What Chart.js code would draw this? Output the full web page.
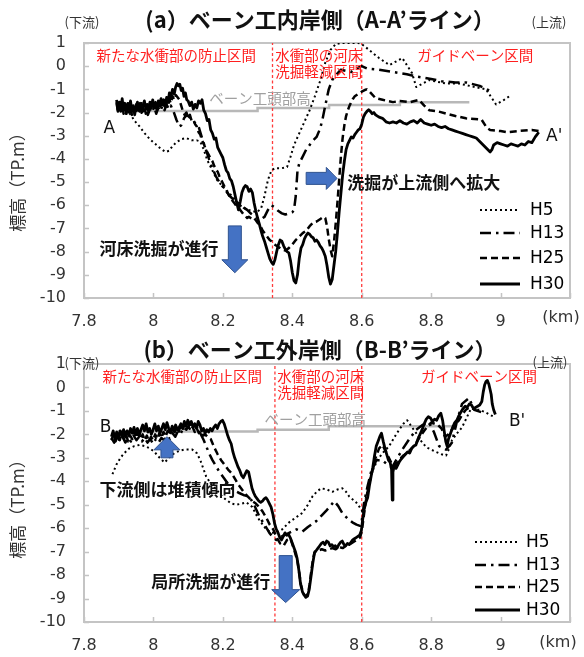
<!DOCTYPE html>
<html>
<head>
<meta charset="utf-8">
<script src="https://cdn.jsdelivr.net/npm/chart.js@4.4.1/dist/chart.umd.min.js"></script>
<style>
  html, body { margin: 0; padding: 0; background: #fff; }
  #wrap { position: relative; width: 584px; height: 657px; overflow: hidden; }
  canvas { position: absolute; left: 0; }
  #cA { top: 0; }
  #cB { top: 328px; }
</style>
</head>
<body>
<div id="wrap">
  <canvas id="cA" width="584" height="330"></canvas>
  <canvas id="cB" width="584" height="329"></canvas>
</div>
<script>
// ---- axes ----
const kmTicks = [7.8, 8.0, 8.2, 8.4, 8.6, 8.8, 9.0, 9.2];
const kmTickLabels = ['7.8', '8', '8.2', '8.4', '8.6', '8.8', '9', ''];
const elevTicks = [1, 0, -1, -2, -3, -4, -5, -6, -7, -8, -9, -10];
const elevTickLabels = ['1', '0', '-1', '-2', '-3', '-4', '-5', '-6', '-7', '-8', '-9', '-10'];
const seriesNames = ['H5', 'H13', 'H25', 'H30'];

// ---- (a) inner bank, A-A' line: [km, elevation TP.m] ----
const lineA_H30 = [[7.894,-1.45],[7.898,-1.95],[7.902,-1.55],[7.906,-1.80],[7.910,-1.40],[7.914,-1.90],[7.918,-1.60],[7.922,-2.05],[7.926,-1.65],[7.930,-1.85],[7.934,-1.50],[7.938,-1.95],[7.942,-1.70],[7.946,-2.10],[7.950,-1.75],[7.954,-1.55],[7.958,-1.90],[7.962,-1.60],[7.966,-2.00],[7.970,-1.70],[7.974,-1.50],[7.978,-1.85],[7.982,-1.65],[7.986,-1.95],[7.990,-1.55],[7.994,-1.75],[7.998,-1.45],[8.002,-1.80],[8.006,-1.60],[8.010,-1.90],[8.014,-1.50],[8.018,-1.70],[8.022,-1.40],[8.026,-1.65],[8.030,-1.45],[8.034,-1.75],[8.038,-1.35],[8.042,-1.55],[8.046,-1.15],[8.050,-1.35],[8.055,-1.00],[8.060,-1.20],[8.064,-0.90],[8.068,-0.75],[8.072,-0.85],[8.076,-0.78],[8.080,-1.05],[8.084,-0.95],[8.088,-1.30],[8.092,-1.15],[8.096,-1.45],[8.100,-1.50],[8.105,-1.70],[8.110,-1.55],[8.115,-1.85],[8.120,-1.65],[8.125,-1.80],[8.130,-1.50],[8.135,-1.60],[8.140,-1.45],[8.145,-1.90],[8.150,-2.05],[8.155,-2.35],[8.160,-2.30],[8.165,-2.75],[8.170,-2.90],[8.175,-3.15],[8.180,-3.10],[8.185,-3.50],[8.190,-3.65],[8.195,-3.80],[8.200,-3.95],[8.205,-4.25],[8.210,-4.50],[8.215,-4.60],[8.220,-4.85],[8.225,-4.95],[8.230,-5.20],[8.235,-5.55],[8.240,-5.90],[8.245,-6.20],[8.250,-5.85],[8.255,-5.45],[8.260,-5.25],[8.265,-5.15],[8.270,-5.20],[8.275,-5.40],[8.280,-5.30],[8.285,-5.45],[8.290,-5.90],[8.295,-6.25],[8.300,-6.55],[8.305,-6.80],[8.310,-7.10],[8.315,-7.35],[8.320,-7.55],[8.325,-7.80],[8.330,-8.05],[8.335,-8.30],[8.340,-8.45],[8.345,-8.55],[8.350,-8.35],[8.355,-8.00],[8.360,-7.70],[8.365,-7.50],[8.370,-7.55],[8.375,-7.75],[8.380,-7.90],[8.385,-8.00],[8.390,-8.05],[8.395,-8.40],[8.400,-8.90],[8.405,-9.25],[8.410,-9.35],[8.415,-9.00],[8.420,-8.30],[8.425,-7.85],[8.430,-7.70],[8.435,-7.45],[8.440,-7.30],[8.445,-7.20],[8.450,-7.25],[8.455,-7.35],[8.460,-7.40],[8.465,-7.55],[8.470,-7.50],[8.475,-7.60],[8.480,-7.75],[8.485,-7.85],[8.490,-8.00],[8.495,-8.20],[8.500,-8.60],[8.505,-9.10],[8.510,-9.40],[8.515,-9.20],[8.520,-8.60],[8.525,-8.00],[8.530,-7.20],[8.535,-6.30],[8.540,-5.50],[8.545,-4.70],[8.550,-4.10],[8.555,-3.60],[8.560,-3.35],[8.565,-3.20],[8.570,-3.05],[8.575,-3.10],[8.580,-2.95],[8.585,-2.85],[8.590,-2.75],[8.595,-2.70],[8.600,-2.50],[8.605,-2.20],[8.610,-2.05],[8.615,-1.95],[8.620,-1.88],[8.625,-1.95],[8.630,-2.05],[8.635,-2.00],[8.640,-2.10],[8.650,-2.20],[8.660,-2.25],[8.670,-2.40],[8.680,-2.45],[8.690,-2.40],[8.700,-2.45],[8.710,-2.35],[8.720,-2.45],[8.730,-2.50],[8.740,-2.40],[8.750,-2.35],[8.760,-2.45],[8.770,-2.30],[8.780,-2.45],[8.790,-2.50],[8.800,-2.55],[8.810,-2.50],[8.820,-2.60],[8.830,-2.65],[8.840,-2.60],[8.850,-2.70],[8.860,-2.75],[8.870,-2.80],[8.880,-2.85],[8.890,-2.90],[8.900,-2.95],[8.910,-3.00],[8.920,-3.05],[8.930,-3.10],[8.940,-3.25],[8.950,-3.40],[8.960,-3.55],[8.970,-3.70],[8.975,-3.60],[8.980,-3.40],[8.990,-3.30],[9.000,-3.35],[9.010,-3.40],[9.020,-3.45],[9.030,-3.35],[9.040,-3.40],[9.050,-3.45],[9.060,-3.35],[9.070,-3.40],[9.080,-3.25],[9.090,-3.30],[9.100,-3.05],[9.105,-2.95],[9.110,-2.85]];

const lineA_H25 = [[7.894,-1.60],[7.898,-2.00],[7.902,-1.70],[7.906,-1.95],[7.910,-1.65],[7.914,-2.05],[7.918,-1.75],[7.922,-1.95],[7.926,-1.60],[7.930,-2.00],[7.934,-1.75],[7.938,-2.10],[7.942,-1.80],[7.946,-1.95],[7.950,-1.65],[7.954,-2.00],[7.958,-1.70],[7.962,-1.90],[7.966,-1.60],[7.970,-1.95],[7.974,-1.75],[7.978,-2.05],[7.982,-1.70],[7.986,-1.85],[7.990,-1.60],[7.994,-1.90],[7.998,-1.65],[8.002,-1.85],[8.006,-1.55],[8.010,-1.80],[8.014,-1.60],[8.018,-1.85],[8.022,-1.55],[8.026,-1.75],[8.030,-1.60],[8.034,-1.80],[8.038,-1.50],[8.042,-1.70],[8.046,-1.45],[8.050,-1.60],[8.055,-1.30],[8.060,-1.45],[8.065,-1.25],[8.070,-1.35],[8.075,-1.45],[8.080,-1.70],[8.085,-1.95],[8.090,-2.10],[8.095,-2.00],[8.100,-2.20],[8.105,-2.10],[8.110,-2.35],[8.115,-2.30],[8.120,-2.50],[8.125,-2.60],[8.130,-2.85],[8.135,-2.95],[8.140,-3.20],[8.145,-3.35],[8.150,-3.55],[8.155,-3.70],[8.160,-3.85],[8.165,-4.00],[8.170,-4.10],[8.175,-4.30],[8.180,-4.45],[8.185,-4.55],[8.190,-4.75],[8.195,-4.90],[8.200,-5.05],[8.205,-5.20],[8.210,-5.35],[8.215,-5.50],[8.220,-5.65],[8.225,-5.75],[8.230,-5.85],[8.235,-5.95],[8.240,-6.05],[8.245,-6.10],[8.250,-6.20],[8.255,-6.30],[8.260,-6.40],[8.265,-6.45],[8.270,-6.55],[8.275,-6.50],[8.280,-6.55],[8.285,-6.60],[8.290,-6.55],[8.295,-6.65],[8.300,-6.75],[8.305,-6.85],[8.310,-6.95],[8.315,-7.10],[8.320,-7.20],[8.325,-7.30],[8.330,-7.40],[8.335,-7.50],[8.340,-7.55],[8.345,-7.65],[8.350,-7.70],[8.360,-7.80],[8.370,-7.90],[8.380,-7.95],[8.390,-7.85],[8.400,-7.70],[8.410,-7.50],[8.420,-7.35],[8.430,-7.20],[8.440,-7.10],[8.450,-6.90],[8.460,-6.75],[8.470,-6.70],[8.480,-6.60],[8.490,-6.50],[8.495,-6.55],[8.500,-6.90],[8.505,-7.45],[8.510,-7.90],[8.515,-8.20],[8.520,-7.60],[8.525,-6.80],[8.530,-5.90],[8.535,-4.90],[8.540,-3.90],[8.545,-3.10],[8.550,-2.55],[8.555,-2.15],[8.560,-1.90],[8.565,-1.70],[8.570,-1.55],[8.575,-1.40],[8.580,-1.30],[8.590,-1.20],[8.600,-1.10],[8.610,-1.02],[8.615,-1.00],[8.620,-1.05],[8.640,-1.38],[8.660,-1.45],[8.690,-1.55],[8.710,-1.50],[8.740,-1.55],[8.765,-1.45],[8.780,-1.70],[8.795,-1.90],[8.820,-1.95],[8.845,-2.05],[8.870,-2.15],[8.900,-2.25],[8.945,-2.30],[8.960,-2.65],[8.970,-2.75],[9.000,-2.80],[9.020,-2.85],[9.050,-2.80],[9.090,-2.75],[9.110,-2.80]];

const lineA_H13 = [[7.894,-1.55],[7.900,-1.85],[7.906,-1.65],[7.912,-2.00],[7.918,-1.70],[7.924,-1.90],[7.930,-1.60],[7.936,-1.95],[7.942,-1.75],[7.948,-2.05],[7.954,-1.80],[7.960,-1.95],[7.966,-1.70],[7.972,-2.00],[7.978,-1.80],[7.984,-2.10],[7.990,-1.85],[7.996,-2.00],[8.002,-1.75],[8.008,-2.05],[8.014,-1.80],[8.020,-1.95],[8.026,-1.70],[8.032,-1.90],[8.038,-1.65],[8.044,-1.85],[8.050,-1.70],[8.058,-1.95],[8.066,-2.30],[8.074,-2.60],[8.080,-2.55],[8.088,-2.25],[8.096,-2.10],[8.104,-2.20],[8.112,-2.35],[8.120,-2.45],[8.130,-2.60],[8.140,-3.10],[8.150,-3.55],[8.160,-4.00],[8.170,-4.40],[8.180,-4.75],[8.190,-5.00],[8.200,-5.20],[8.210,-5.40],[8.220,-5.60],[8.230,-5.75],[8.240,-5.85],[8.250,-5.95],[8.260,-6.10],[8.270,-6.20],[8.280,-6.35],[8.290,-6.45],[8.300,-6.55],[8.310,-6.60],[8.320,-6.50],[8.330,-6.20],[8.340,-6.00],[8.350,-6.10],[8.360,-6.25],[8.370,-6.35],[8.380,-6.40],[8.390,-6.35],[8.400,-6.30],[8.405,-6.20],[8.410,-5.60],[8.415,-4.50],[8.420,-4.20],[8.430,-3.90],[8.440,-3.60],[8.450,-3.40],[8.460,-3.20],[8.470,-3.05],[8.480,-2.70],[8.487,-2.30],[8.495,-1.70],[8.505,-1.00],[8.515,-0.60],[8.525,-0.40],[8.540,-0.15],[8.555,-0.20],[8.570,-0.25],[8.585,-0.10],[8.600,0.00],[8.615,-0.10],[8.650,-0.15],[8.690,-0.25],[8.730,-0.35],[8.760,-0.45],[8.800,-0.55],[8.830,-0.65],[8.870,-0.70],[8.900,-0.70],[8.940,-0.85],[8.975,-1.10]];

const lineA_H5 = [[7.894,-1.70],[7.910,-1.80],[7.925,-1.95],[7.935,-2.10],[7.945,-2.35],[7.960,-2.60],[7.975,-2.90],[7.990,-3.15],[8.005,-3.35],[8.020,-3.55],[8.035,-3.70],[8.045,-3.65],[8.055,-3.45],[8.065,-3.30],[8.080,-3.15],[8.095,-3.10],[8.110,-3.20],[8.125,-3.20],[8.135,-3.25],[8.145,-3.60],[8.155,-4.05],[8.170,-4.50],[8.183,-4.90],[8.200,-5.20],[8.220,-5.50],[8.240,-5.85],[8.257,-6.10],[8.275,-6.20],[8.297,-6.30],[8.310,-6.15],[8.320,-5.60],[8.330,-4.90],[8.340,-4.50],[8.350,-4.40],[8.370,-4.40],[8.385,-4.35],[8.395,-3.90],[8.405,-3.40],[8.420,-2.90],[8.435,-2.40],[8.450,-1.90],[8.465,-1.30],[8.480,-0.65],[8.495,0.15],[8.510,0.70],[8.525,0.95],[8.540,1.00],[8.570,1.00],[8.590,1.00],[8.600,0.95],[8.613,0.80],[8.650,0.35],[8.680,0.05],[8.717,0.35],[8.745,-0.30],[8.757,-0.90],[8.794,-0.60],[8.843,-0.75],[8.880,-0.75],[8.958,-1.00],[8.987,-1.65],[9.010,-1.45],[9.030,-1.25]];

// crest height of the vanes along A-A'
const vaneA = [[7.894,-1.93],[8.300,-1.93],[8.300,-1.80],[8.506,-1.80],[8.506,-1.67],[8.710,-1.67],[8.710,-1.56],[8.910,-1.56]];
const sectionA = [8.343, 8.600];

// ---- (b) outer bank, B-B' line: [km, elevation TP.m] ----
const lineB_H30 = [[7.879,-2.10],[7.884,-1.85],[7.889,-2.20],[7.894,-1.90],[7.899,-2.15],[7.904,-1.85],[7.909,-2.05],[7.914,-1.80],[7.919,-2.10],[7.924,-1.85],[7.929,-2.05],[7.934,-1.75],[7.939,-1.95],[7.944,-1.70],[7.949,-2.00],[7.954,-1.75],[7.959,-2.05],[7.964,-1.80],[7.969,-1.60],[7.974,-1.85],[7.979,-1.55],[7.984,-1.90],[7.989,-1.75],[7.994,-2.00],[7.999,-1.80],[8.004,-1.55],[8.009,-1.85],[8.014,-1.65],[8.019,-1.95],[8.024,-1.75],[8.029,-1.55],[8.034,-1.80],[8.039,-1.50],[8.044,-1.75],[8.049,-1.90],[8.054,-1.65],[8.059,-1.85],[8.064,-1.60],[8.069,-1.80],[8.074,-1.70],[8.079,-1.55],[8.084,-1.75],[8.089,-1.45],[8.094,-1.65],[8.099,-1.40],[8.104,-1.60],[8.109,-1.45],[8.114,-1.70],[8.119,-1.55],[8.124,-1.75],[8.129,-1.45],[8.134,-1.60],[8.139,-1.85],[8.144,-1.75],[8.149,-1.95],[8.154,-1.80],[8.159,-1.90],[8.164,-1.75],[8.169,-1.85],[8.174,-1.70],[8.179,-1.60],[8.184,-1.75],[8.189,-1.55],[8.194,-1.45],[8.199,-1.40],[8.204,-1.55],[8.209,-1.80],[8.214,-2.05],[8.219,-2.25],[8.224,-2.40],[8.229,-2.75],[8.234,-3.00],[8.239,-3.20],[8.244,-3.40],[8.249,-3.55],[8.254,-3.75],[8.259,-3.85],[8.264,-3.70],[8.269,-3.55],[8.274,-3.60],[8.279,-3.95],[8.284,-4.30],[8.289,-4.50],[8.294,-4.65],[8.299,-4.75],[8.304,-4.85],[8.309,-4.90],[8.314,-4.85],[8.319,-4.75],[8.324,-4.70],[8.329,-4.80],[8.334,-4.95],[8.339,-5.10],[8.344,-5.40],[8.349,-5.80],[8.354,-6.05],[8.359,-6.20],[8.364,-6.40],[8.369,-6.50],[8.374,-6.35],[8.379,-6.20],[8.384,-6.30],[8.389,-6.25],[8.394,-6.40],[8.399,-6.60],[8.404,-6.80],[8.409,-7.00],[8.414,-7.30],[8.419,-7.80],[8.424,-8.40],[8.429,-8.70],[8.434,-8.85],[8.439,-8.95],[8.444,-8.90],[8.449,-8.60],[8.454,-8.05],[8.459,-7.50],[8.464,-7.05],[8.469,-6.95],[8.474,-6.85],[8.479,-6.75],[8.484,-6.65],[8.489,-6.60],[8.494,-6.70],[8.499,-6.55],[8.504,-6.60],[8.509,-6.75],[8.514,-6.70],[8.519,-6.80],[8.524,-6.75],[8.529,-6.85],[8.534,-6.70],[8.539,-6.60],[8.544,-6.55],[8.549,-6.70],[8.554,-6.75],[8.559,-6.65],[8.564,-6.70],[8.569,-6.60],[8.574,-6.50],[8.579,-6.45],[8.584,-6.40],[8.589,-6.35],[8.594,-6.30],[8.599,-6.10],[8.603,-5.60],[8.607,-5.20],[8.612,-4.90],[8.617,-4.70],[8.622,-4.20],[8.627,-3.80],[8.632,-3.40],[8.637,-2.90],[8.642,-2.50],[8.647,-2.30],[8.652,-2.10],[8.657,-1.95],[8.662,-2.30],[8.667,-2.60],[8.672,-2.85],[8.677,-3.10],[8.682,-3.20],[8.686,-3.50],[8.688,-4.80],[8.690,-3.60],[8.694,-3.30],[8.699,-3.45],[8.704,-3.30],[8.709,-3.15],[8.714,-3.05],[8.720,-2.95],[8.726,-2.85],[8.732,-2.75],[8.738,-2.80],[8.744,-2.60],[8.750,-2.50],[8.756,-2.45],[8.762,-2.20],[8.768,-2.00],[8.774,-1.80],[8.780,-1.55],[8.786,-1.35],[8.792,-1.25],[8.798,-1.30],[8.804,-1.45],[8.810,-1.35],[8.816,-1.40],[8.822,-1.20],[8.828,-1.10],[8.833,-1.40],[8.837,-1.80],[8.842,-2.30],[8.846,-2.50],[8.850,-2.20],[8.856,-1.95],[8.862,-1.70],[8.868,-1.50],[8.874,-1.40],[8.880,-1.20],[8.886,-1.05],[8.892,-0.90],[8.898,-0.80],[8.904,-0.85],[8.910,-0.70],[8.916,-0.75],[8.922,-0.90],[8.928,-0.85],[8.934,-0.80],[8.940,-0.75],[8.946,-0.60],[8.950,-0.20],[8.954,0.10],[8.958,0.25],[8.962,0.30],[8.966,0.15],[8.970,-0.10],[8.973,-0.30],[8.976,-0.70],[8.980,-0.95],[8.985,-1.15]];

const lineB_H25 = [[7.879,-2.25],[7.885,-2.00],[7.891,-2.30],[7.897,-2.05],[7.903,-2.25],[7.909,-1.95],[7.915,-2.20],[7.921,-2.00],[7.927,-2.30],[7.933,-2.05],[7.939,-2.20],[7.945,-1.90],[7.951,-2.15],[7.957,-1.95],[7.963,-2.20],[7.969,-2.00],[7.975,-2.25],[7.981,-2.05],[7.987,-2.30],[7.993,-2.10],[7.999,-2.25],[8.005,-2.00],[8.011,-2.20],[8.017,-1.95],[8.023,-2.15],[8.029,-1.90],[8.035,-2.10],[8.041,-1.85],[8.047,-2.05],[8.053,-1.80],[8.059,-2.00],[8.065,-1.75],[8.071,-1.95],[8.077,-1.70],[8.083,-1.85],[8.089,-1.60],[8.095,-1.80],[8.101,-1.65],[8.107,-1.85],[8.113,-1.70],[8.119,-1.90],[8.125,-1.75],[8.131,-1.95],[8.137,-1.85],[8.143,-2.05],[8.149,-2.00],[8.155,-2.10],[8.165,-2.20],[8.175,-2.55],[8.185,-2.85],[8.195,-3.10],[8.205,-3.30],[8.215,-3.50],[8.225,-3.65],[8.235,-3.90],[8.245,-4.15],[8.255,-4.35],[8.265,-4.55],[8.275,-4.70],[8.285,-4.85],[8.295,-4.95],[8.305,-5.10],[8.315,-5.30],[8.325,-5.55],[8.335,-5.85],[8.345,-6.05],[8.355,-6.40],[8.365,-6.65],[8.375,-6.75],[8.385,-6.50],[8.395,-6.45],[8.405,-6.90],[8.415,-7.40],[8.420,-7.90],[8.425,-8.40],[8.430,-8.70],[8.435,-8.85],[8.440,-8.90],[8.445,-8.80],[8.450,-8.40],[8.455,-7.80],[8.460,-7.30],[8.465,-7.00],[8.475,-6.95],[8.485,-6.90],[8.495,-6.95],[8.505,-6.90],[8.515,-6.85],[8.525,-6.90],[8.535,-6.80],[8.545,-6.85],[8.555,-6.75],[8.565,-6.70],[8.575,-6.60],[8.585,-6.50],[8.595,-6.40],[8.600,-6.15],[8.605,-5.60],[8.610,-5.00],[8.615,-4.60],[8.620,-4.20],[8.630,-3.60],[8.640,-3.00],[8.650,-2.60],[8.660,-2.45],[8.670,-2.75],[8.680,-3.05],[8.690,-3.35],[8.700,-3.25],[8.710,-3.05],[8.720,-2.90],[8.730,-2.80],[8.740,-2.65],[8.750,-2.50],[8.760,-2.30],[8.770,-2.05],[8.780,-1.85],[8.790,-1.65],[8.800,-1.50],[8.810,-1.55],[8.820,-1.60],[8.830,-1.75],[8.840,-2.10],[8.850,-2.00],[8.860,-1.80],[8.870,-1.60],[8.880,-1.40],[8.890,-1.15],[8.900,-0.95],[8.910,-0.85],[8.920,-0.90],[8.930,-0.95]];

const lineB_H13 = [[7.879,-2.15],[7.887,-2.35],[7.895,-2.05],[7.903,-2.30],[7.911,-2.10],[7.919,-2.35],[7.927,-2.15],[7.935,-2.30],[7.943,-2.05],[7.951,-2.25],[7.959,-2.10],[7.967,-2.30],[7.975,-2.15],[7.983,-2.35],[7.991,-2.20],[7.999,-2.40],[8.007,-2.20],[8.015,-2.35],[8.023,-2.15],[8.031,-2.25],[8.039,-2.05],[8.047,-2.20],[8.055,-1.95],[8.063,-2.10],[8.071,-1.85],[8.079,-1.95],[8.087,-1.70],[8.095,-1.80],[8.103,-1.60],[8.111,-1.55],[8.119,-1.60],[8.127,-1.75],[8.135,-1.95],[8.145,-2.25],[8.152,-2.50],[8.160,-2.80],[8.170,-3.10],[8.180,-3.35],[8.190,-3.60],[8.205,-3.90],[8.219,-4.20],[8.233,-4.40],[8.247,-4.50],[8.262,-4.60],[8.276,-4.65],[8.290,-5.00],[8.305,-5.50],[8.320,-5.85],[8.334,-6.20],[8.345,-6.40],[8.354,-6.50],[8.370,-6.35],[8.391,-6.20],[8.412,-6.05],[8.429,-6.15],[8.445,-5.95],[8.469,-5.70],[8.485,-5.45],[8.498,-5.25],[8.510,-5.05],[8.521,-4.85],[8.532,-5.05],[8.544,-5.35],[8.560,-5.60],[8.573,-5.75],[8.585,-5.85],[8.595,-5.90],[8.600,-5.70],[8.607,-4.90],[8.617,-4.20],[8.627,-3.60],[8.642,-3.10],[8.659,-3.10],[8.675,-3.30],[8.688,-3.40],[8.703,-3.00],[8.717,-2.65],[8.737,-2.20],[8.757,-1.80],[8.775,-1.60],[8.794,-1.50],[8.808,-1.90],[8.823,-2.50],[8.843,-2.65],[8.860,-2.35],[8.875,-1.40],[8.889,-0.70],[8.909,-0.45],[8.924,-0.95],[8.944,-1.05]];

const lineB_H5 = [[7.882,-3.70],[7.893,-3.30],[7.905,-3.00],[7.916,-2.80],[7.930,-2.60],[7.945,-2.50],[7.960,-2.45],[7.975,-2.50],[7.990,-2.60],[8.003,-2.75],[8.018,-3.00],[8.032,-3.20],[8.045,-3.00],[8.060,-2.80],[8.075,-2.70],[8.090,-2.65],[8.112,-2.65],[8.125,-2.80],[8.135,-3.10],[8.152,-3.80],[8.165,-4.10],[8.181,-4.35],[8.195,-4.60],[8.210,-4.80],[8.225,-4.95],[8.239,-5.00],[8.255,-4.95],[8.268,-4.90],[8.285,-5.10],[8.295,-5.40],[8.305,-5.65],[8.315,-5.85],[8.325,-6.05],[8.342,-6.20],[8.360,-6.15],[8.371,-6.05],[8.391,-5.75],[8.410,-5.55],[8.429,-5.35],[8.445,-5.00],[8.458,-4.65],[8.470,-4.45],[8.483,-4.30],[8.500,-4.35],[8.515,-4.45],[8.530,-4.35],[8.544,-4.30],[8.555,-4.45],[8.564,-4.65],[8.584,-4.90],[8.599,-5.20],[8.605,-5.40],[8.612,-4.70],[8.620,-4.20],[8.630,-3.60],[8.645,-3.10],[8.660,-2.80],[8.679,-2.50],[8.695,-2.10],[8.708,-1.80],[8.720,-1.55],[8.731,-1.40],[8.745,-1.70],[8.757,-1.95],[8.772,-2.30],[8.786,-2.55],[8.800,-2.65],[8.814,-2.75],[8.830,-2.85],[8.843,-2.90],[8.852,-2.60],[8.860,-2.25],[8.875,-1.95],[8.889,-1.70],[8.902,-1.30],[8.915,-0.90],[8.930,-0.95],[8.938,-0.95],[8.955,-1.05],[8.967,-1.15],[8.981,-1.25]];

const vaneB = [[7.894,-1.88],[8.300,-1.88],[8.300,-1.80],[8.505,-1.80],[8.505,-1.65],[8.875,-1.65]];
const sectionB = [8.350, 8.600];

// ---- drawing helpers ----
const JP = '"Noto Sans CJK JP", "Noto Sans", sans-serif';
const NUM = '"DejaVu Sans", Verdana, sans-serif';
const lineStyles = {
  H5:  { dash: [2, 3],          width: 2.0 },
  H13: { dash: [11, 5, 2.5, 5], width: 2.5 },
  H25: { dash: [7, 4],          width: 2.5 },
  H30: { dash: [],              width: 2.8 }
};

const toPoints = rows => rows.map(r => ({ x: r[0], y: r[1] }));

function drawArrow(ctx, xs, ys, a) {
  ctx.save();
  ctx.fillStyle = '#4472c4';
  ctx.strokeStyle = '#2f528f';
  ctx.lineWidth = 1;
  ctx.beginPath();
  if (a.dir === 'down' || a.dir === 'up') {
    const cx = xs.getPixelForValue(a.at);
    const yA = ys.getPixelForValue(a.from);   // tail end
    const yH = ys.getPixelForValue(a.head);   // where the head starts
    const yT = ys.getPixelForValue(a.to);     // tip
    const s = a.shaft / 2, h = a.headW / 2;
    ctx.moveTo(cx - s, yA); ctx.lineTo(cx + s, yA); ctx.lineTo(cx + s, yH);
    ctx.lineTo(cx + h, yH); ctx.lineTo(cx, yT); ctx.lineTo(cx - h, yH);
    ctx.lineTo(cx - s, yH); ctx.closePath();
  } else {
    const cy = ys.getPixelForValue(a.at);
    const xA = xs.getPixelForValue(a.from);
    const xH = xs.getPixelForValue(a.head);
    const xT = xs.getPixelForValue(a.to);
    const s = a.shaft / 2, h = a.headW / 2;
    ctx.moveTo(xA, cy - s); ctx.lineTo(xH, cy - s); ctx.lineTo(xH, cy - h);
    ctx.lineTo(xT, cy); ctx.lineTo(xH, cy + h); ctx.lineTo(xH, cy + s);
    ctx.lineTo(xA, cy + s); ctx.closePath();
  }
  ctx.fill(); ctx.stroke();
  ctx.restore();
}

const panelDecor = {
  id: 'panelDecor',
  beforeDatasetsDraw(chart) {
    const o = chart.options.plugins.panelDecor;
    const { ctx, chartArea: a } = chart;
    const xs = chart.scales.x, ys = chart.scales.y;
    ctx.save();
    ctx.strokeStyle = '#c4c4c4';
    ctx.lineWidth = 2;
    ctx.strokeRect(a.left, a.top, a.right - a.left, a.bottom - a.top);
    ctx.lineWidth = 1.5;
    ctx.beginPath();
    kmTicks.forEach(v => {
      const x = Math.round(xs.getPixelForValue(v)) + 0.5;
      ctx.moveTo(x, a.bottom); ctx.lineTo(x, a.bottom - 5);
    });
    elevTicks.forEach(v => {
      const y = Math.round(ys.getPixelForValue(v)) + 0.5;
      ctx.moveTo(a.left, y); ctx.lineTo(a.left + 5, y);
    });
    ctx.stroke();
    ctx.restore();
  },
  afterDraw(chart) {
    const o = chart.options.plugins.panelDecor;
    const { ctx } = chart;
    const xs = chart.scales.x, ys = chart.scales.y;
    ctx.save();
    ctx.textBaseline = 'middle';

    // notes placed in data units
    o.notes.forEach(t => {
      ctx.font = t.font;
      ctx.fillStyle = t.color;
      ctx.textAlign = t.align || 'left';
      ctx.fillText(t.text, xs.getPixelForValue(t.km), ys.getPixelForValue(t.el));
    });

    o.arrows.forEach(a => drawArrow(ctx, xs, ys, a));

    // titles and fixed captions
    o.captions.forEach(t => {
      ctx.font = t.font;
      ctx.fillStyle = t.color;
      ctx.textAlign = t.align || 'center';
      if (t.rotate) {
        ctx.save();
        ctx.translate(t.x, t.y);
        ctx.rotate(-Math.PI / 2);
        ctx.fillText(t.text, 0, 0);
        ctx.restore();
      } else {
        ctx.fillText(t.text, t.x, t.y);
      }
    });

    // legend
    const L = o.legend;
    seriesNames.forEach((name, i) => {
      const st = lineStyles[name];
      const y = L.rows[i];
      ctx.strokeStyle = '#000';
      ctx.lineWidth = st.width;
      ctx.setLineDash(st.dash);
      ctx.beginPath();
      ctx.moveTo(L.x1, y); ctx.lineTo(L.x2, y);
      ctx.stroke();
      ctx.setLineDash([]);
      ctx.fillStyle = '#000';
      ctx.font = '17px ' + NUM;
      ctx.textAlign = 'left';
      ctx.fillText(name, L.tx, y + 1);
    });
    ctx.restore();
  }
};

function makePanel(canvasId, p) {
  const seriesRows = { H5: p.H5, H13: p.H13, H25: p.H25, H30: p.H30 };
  const datasets = [];
  ['H30', 'H25', 'H13', 'H5'].forEach(name => {
    const st = lineStyles[name];
    datasets.push({
      label: name,
      data: toPoints(seriesRows[name]),
      borderColor: '#000',
      borderWidth: st.width,
      borderDash: st.dash,
      borderCapStyle: 'butt',
      borderJoinStyle: 'round',
      pointRadius: 0,
      tension: 0,
      fill: false,
      order: 1
    });
  });
  datasets.push({
    label: 'vane',
    data: toPoints(p.vane),
    borderColor: '#b8b8b8',
    borderWidth: 2.5,
    pointRadius: 0,
    fill: false,
    order: 10
  });
  p.sections.forEach(km => {
    datasets.push({
      label: 'section',
      data: [{ x: km, y: -10 }, { x: km, y: 1 }],
      borderColor: '#ff3b3b',
      borderWidth: 1.3,
      borderDash: [3, 2.5],
      pointRadius: 0,
      fill: false,
      order: 5
    });
  });

  return new Chart(document.getElementById(canvasId), {
    type: 'line',
    data: { datasets },
    plugins: [panelDecor],
    options: {
      responsive: false,
      animation: false,
      events: [],
      layout: { padding: p.padding },
      plugins: {
        legend: { display: false },
        tooltip: { enabled: false },
        panelDecor: p.decor
      },
      scales: {
        x: {
          type: 'linear',
          min: 7.8, max: 9.2,
          afterBuildTicks: s => { s.ticks = kmTicks.map(v => ({ value: v })); },
          afterFit: s => { s.height = p.xAxisHeight; },
          grid: { display: false, drawTicks: false },
          border: { display: false },
          ticks: {
            autoSkip: false, maxRotation: 0, padding: p.xPad,
            color: '#333', font: { family: NUM, size: 16 },
            callback: (v, i) => kmTickLabels[i]
          }
        },
        y: {
          type: 'linear',
          min: -10, max: 1,
          afterBuildTicks: s => { s.ticks = elevTicks.map(v => ({ value: v })); },
          afterFit: s => { s.width = 84; },
          grid: { display: false, drawTicks: false },
          border: { display: false },
          ticks: {
            autoSkip: false, padding: 18,
            color: '#333', font: { family: NUM, size: 16 },
            callback: (v, i) => elevTickLabels[i]
          }
        }
      }
    }
  });
}

const red = '#ff1f1f';
const redFont = '14.5px ' + JP;
const boldFont = 'bold 17px ' + JP;
const grayFont = '14.5px ' + JP;

makePanel('cA', {
  H5: lineA_H5, H13: lineA_H13, H25: lineA_H25, H30: lineA_H30,
  vane: vaneA, sections: sectionA,
  padding: { top: 43, right: 10, left: 0, bottom: 0 },
  xAxisHeight: 32, xPad: 14,
  decor: {
    notes: [
      { text: '新たな水衝部の防止区間', km: 7.836, el: 0.48, font: redFont, color: red },
      { text: '水衝部の河床', km: 8.351, el: 0.48, font: redFont, color: red },
      { text: '洗掘軽減区間', km: 8.351, el: -0.25, font: redFont, color: red },
      { text: 'ガイドベーン区間', km: 8.760, el: 0.48, font: redFont, color: red },
      { text: 'ベーン工頭部高', km: 8.161, el: -1.41, font: grayFont, color: '#a0a0a0' },
      { text: '洗掘が上流側へ拡大', km: 8.558, el: -5.00, font: boldFont, color: '#111' },
      { text: '河床洗掘が進行', km: 7.845, el: -7.88, font: boldFont, color: '#111' },
      { text: 'A', km: 7.873, el: -2.71, font: '17px ' + NUM, color: '#111', align: 'center' },
      { text: 'A\'', km: 9.131, el: -3.05, font: '17px ' + NUM, color: '#111' }
    ],
    arrows: [
      { dir: 'down', at: 8.2345, from: -6.89, head: -8.35, to: -8.91, shaft: 13, headW: 26 },
      { dir: 'right', at: -4.84, from: 8.440, head: 8.498, to: 8.529, shaft: 12, headW: 22 }
    ],
    captions: [
      { text: '(a）ベーン工内岸側（A-A’ライン）', x: 320, y: 20, font: 'bold 22px ' + JP, color: '#111' },
      { text: '(下流)', x: 82, y: 22, font: '13px ' + JP, color: '#333' },
      { text: '(上流)', x: 549, y: 22, font: '13px ' + JP, color: '#333' },
      { text: '標高（TP.m）', x: 18, y: 178, font: '17px ' + JP, color: '#333', rotate: true },
      { text: '(km)', x: 561, y: 318, font: '16px ' + NUM, color: '#333' }
    ],
    legend: { rows: [210, 233, 258, 284], x1: 480, x2: 520, tx: 530 }
  }
});

makePanel('cB', {
  H5: lineB_H5, H13: lineB_H13, H25: lineB_H25, H30: lineB_H30,
  vane: vaneB, sections: sectionB,
  padding: { top: 36, right: 12, left: 0, bottom: 0 },
  xAxisHeight: 35, xPad: 14,
  decor: {
    notes: [
      { text: '新たな水衝部の防止区間', km: 7.853, el: 0.45, font: redFont, color: red },
      { text: '水衝部の河床', km: 8.357, el: 0.45, font: redFont, color: red },
      { text: '洗掘軽減区間', km: 8.357, el: -0.23, font: redFont, color: red },
      { text: 'ガイドベーン区間', km: 8.771, el: 0.45, font: redFont, color: red },
      { text: 'ベーン工頭部高', km: 8.320, el: -1.38, font: grayFont, color: '#a0a0a0' },
      { text: '下流側は堆積傾向', km: 7.845, el: -4.36, font: boldFont, color: '#111' },
      { text: '局所洗掘が進行', km: 7.994, el: -8.28, font: boldFont, color: '#111' },
      { text: 'B', km: 7.862, el: -1.72, font: '17px ' + NUM, color: '#111', align: 'center' },
      { text: 'B\'', km: 9.024, el: -1.47, font: '17px ' + NUM, color: '#111' }
    ],
    arrows: [
      { dir: 'up', at: 8.039, from: -3.00, head: -2.66, to: -2.10, shaft: 12, headW: 26 },
      { dir: 'down', at: 8.381, from: -7.17, head: -8.62, to: -9.17, shaft: 13, headW: 28 }
    ],
    captions: [
      { text: '(b）ベーン工外岸側（B-B’ライン）', x: 320, y: 22, font: 'bold 22px ' + JP, color: '#111' },
      { text: '(下流)', x: 82, y: 35, font: '13px ' + JP, color: '#333' },
      { text: '(上流)', x: 550, y: 34, font: '13px ' + JP, color: '#333' },
      { text: '標高（TP.m）', x: 18, y: 177, font: '17px ' + JP, color: '#333', rotate: true },
      { text: '(km)', x: 558, y: 315, font: '16px ' + NUM, color: '#333' }
    ],
    legend: { rows: [214, 237, 259, 282], x1: 475, x2: 520, tx: 526 }
  }
});
</script>
</body>
</html>
